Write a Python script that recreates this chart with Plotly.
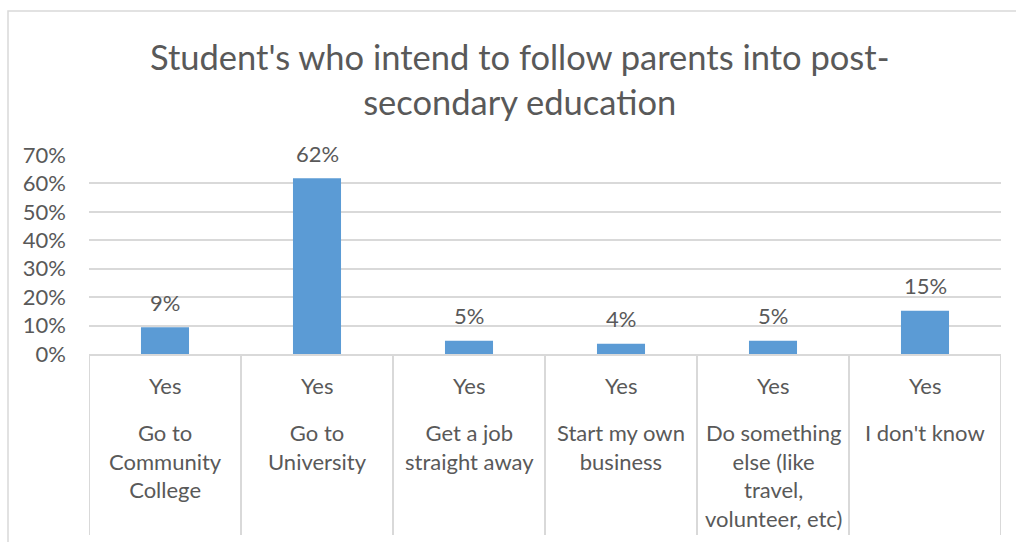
import plotly.graph_objects as go

# Survey results
groups = ["Yes", "Yes", "Yes", "Yes", "Yes", "Yes"]
categories = [
    "Go to<br>Community<br>College",
    "Go to<br>University",
    "Get a job<br>straight away",
    "Start my own<br>business",
    "Do something<br>else (like<br>travel,<br>volunteer, etc)",
    "I don't know",
]
shares = [0.094, 0.618, 0.047, 0.036, 0.047, 0.152]
y_ticks = [0, 0.1, 0.2, 0.3, 0.4, 0.5, 0.6, 0.7]

TEXT = "#595959"
GRID = "#D9D9D9"
BAR = "#5B9BD5"
FONT = "Lato"
LABEL_SIZE = 22

W, H = 1016, 542
L, R, T, B = 89, W - 1001, 155, H - 354
plot_w = W - L - R
plot_h = H - T - B

idx = list(range(len(shares)))

fig = go.Figure(
    go.Bar(x=idx, y=shares, marker=dict(color=BAR, line=dict(width=0)), hoverinfo="skip")
)

annotations = []
# value labels above bars
for i, v in zip(idx, shares):
    annotations.append(dict(
        x=i, y=v, xref="x", yref="y", text=f"{v:.0%}", showarrow=False,
        yanchor="middle", yshift=25, font=dict(family=FONT, size=LABEL_SIZE, color=TEXT),
    ))

def py(px):
    # pixel row -> paper y
    return (H - B - px) / plot_h

def px_x(px):
    return (px - L) / plot_w

# two-level category labels
for i, (g, c) in enumerate(zip(groups, categories)):
    annotations.append(dict(
        x=i, y=py(385), xref="x", yref="paper", text=g, showarrow=False,
        yanchor="middle", font=dict(family=FONT, size=LABEL_SIZE, color=TEXT),
    ))
    annotations.append(dict(
        x=i, y=py(417), xref="x", yref="paper", text=c, showarrow=False,
        yanchor="top", align="center", font=dict(family=FONT, size=LABEL_SIZE, color=TEXT),
    ))

# title
annotations.append(dict(
    x=px_x(519), y=py(79), xref="paper", yref="paper", showarrow=False,
    text="Student's who intend to follow parents into post-<br>secondary education",
    yanchor="middle", align="center", font=dict(family=FONT, size=34.5, color=TEXT),
))

shapes = []
# category separators below the axis
for k in range(len(shares) + 1):
    shapes.append(dict(
        type="line", xref="x", yref="paper", x0=k - 0.5, x1=k - 0.5,
        y0=0, y1=py(535), line=dict(color=GRID, width=2),
    ))
# chart frame
shapes.append(dict(
    type="rect", xref="paper", yref="paper",
    x0=px_x(8), x1=px_x(1030), y0=py(560), y1=py(11),
    line=dict(color=GRID, width=1.5), fillcolor="rgba(0,0,0,0)", layer="below",
))

fig.update_layout(
    width=W, height=H,
    margin=dict(l=L, r=R, t=T, b=B),
    paper_bgcolor="white", plot_bgcolor="white",
    bargap=0.684, showlegend=False,
    annotations=annotations, shapes=shapes,
    font=dict(family=FONT, color=TEXT),
    xaxis=dict(range=[-0.5, len(shares) - 0.5], showticklabels=False, showgrid=False,
               zeroline=False, showline=True, linecolor=GRID, linewidth=2, ticks="",
               fixedrange=True),
    yaxis=dict(range=[0, 0.7], tickvals=y_ticks, tickformat=".0%", showgrid=True,
               gridcolor=GRID, gridwidth=2, zeroline=False, showline=False,
               ticklabelstandoff=22, tickfont=dict(family=FONT, size=LABEL_SIZE, color=TEXT),
               fixedrange=True),
)

fig.write_html("out.html", config={"displayModeBar": False})
